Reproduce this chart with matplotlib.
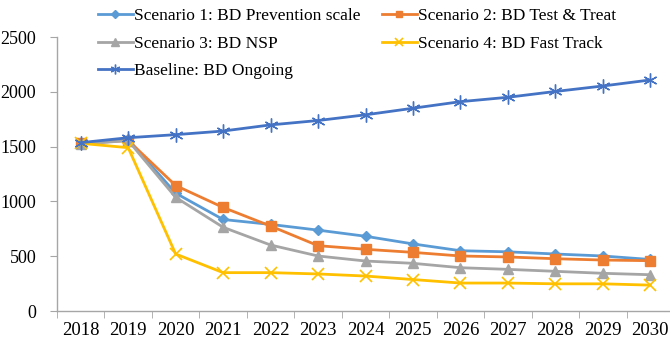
import matplotlib
matplotlib.use("Agg")
import matplotlib.pyplot as plt

years = [2018, 2019, 2020, 2021, 2022, 2023, 2024, 2025, 2026, 2027, 2028, 2029, 2030]
s1_prevention = [1530, 1565, 1075, 835, 790, 738, 682, 612, 550, 540, 520, 502, 470]
s2_test_treat = [1530, 1555, 1145, 945, 775, 596, 563, 535, 502, 493, 477, 465, 459]
s3_nsp = [1522, 1555, 1037, 764, 602, 502, 456, 435, 395, 380, 362, 344, 331]
s4_fast_track = [1530, 1490, 520, 350, 350, 338, 319, 287, 255, 255, 248, 248, 236]
baseline = [1536, 1581, 1609, 1642, 1698, 1738, 1790, 1850, 1910, 1950, 2003, 2053, 2108]
labels = ["Scenario 1: BD Prevention scale", "Scenario 2: BD Test & Treat",
          "Scenario 3: BD NSP", "Scenario 4: BD Fast Track", "Baseline: BD Ongoing"]
yticks = [0, 500, 1000, 1500, 2000, 2500]

plt.rcParams['font.family'] = ['Liberation Serif', 'DejaVu Serif']

fig = plt.figure(figsize=(6.70, 3.42), dpi=100)
ax = fig.add_axes([57 / 670, (342 - 311) / 342, (674 - 57) / 670, (311 - 37) / 342])

x = list(range(len(years)))
lw = 2.0
h1, = ax.plot(x, s1_prevention, color='#5B9BD5', lw=lw, marker='D', ms=5.5, label=labels[0])
h2, = ax.plot(x, s2_test_treat, color='#ED7D31', lw=lw, marker='s', ms=7, label=labels[1])
h3, = ax.plot(x, s3_nsp, color='#A5A5A5', lw=lw, marker='^', ms=7.5, label=labels[2])
h4, = ax.plot(x, s4_fast_track, color='#FFC000', lw=lw, marker='x', ms=8, mew=1.2, label=labels[3])
h5, = ax.plot(x, baseline, color='#4472C4', lw=lw, marker=(6, 2, 0), ms=10, mew=1.0, label=labels[4])

ax.set_xlim(-0.5, len(years) - 0.5)
ax.set_ylim(0, 2500)
ax.set_yticks(yticks)
ax.set_yticklabels([str(v) for v in yticks], fontsize=13)
ax.set_xticks(x)
ax.set_xticklabels([str(y) for y in years], fontsize=13.5)
ax.tick_params(axis='x', length=0, pad=8)
ax.set_xticks([i + 0.5 for i in range(-1, len(years))], minor=True)
ax.tick_params(axis='x', which='minor', length=5, color='#A6A6A6', direction='out')
ax.tick_params(axis='y', length=5, color='#A6A6A6', direction='out', pad=10)

for s in ['top', 'right']:
    ax.spines[s].set_visible(False)
for s in ['left', 'bottom']:
    ax.spines[s].set_color('#A6A6A6')
    ax.spines[s].set_linewidth(1.0)

leg = fig.legend(handles=[h1, h3, h5, h2, h4], ncol=2, loc='upper left',
                 bbox_to_anchor=(98 / 670, 1 - 8 / 342), frameon=False,
                 fontsize=12.5, handlelength=2.0, handletextpad=0.1,
                 columnspacing=1.2, labelspacing=0.65, markerscale=0.7,
                 borderpad=0, borderaxespad=0)

fig.savefig('out.png', dpi=100)
